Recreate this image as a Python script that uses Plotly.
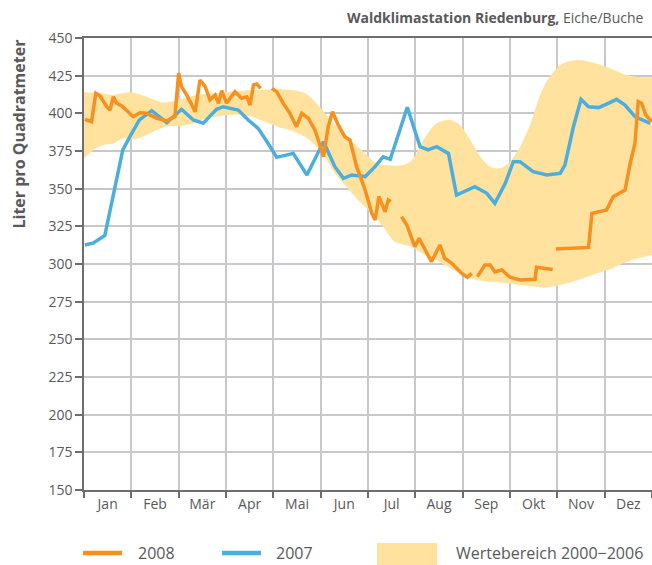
import plotly.graph_objects as go

# ---------------- data ----------------
months = ["Jan", "Feb", "Mär", "Apr", "Mai", "Jun", "Jul", "Aug", "Sep", "Okt", "Nov", "Dez"]
month_centers = [i + 0.5 for i in range(12)]
month_edges = list(range(13))
y_ticks = list(range(150, 451, 25))

# x positions are in months (0 = 1 Jan, 12 = 31 Dec)
x_2007 = [0.02, 0.20, 0.44, 0.62, 0.82, 0.97, 1.17, 1.43, 1.75, 2.06, 2.31, 2.52, 2.80, 2.94,
          3.26, 3.47, 3.68, 3.89, 4.07, 4.42, 4.71, 5.06, 5.30, 5.48, 5.66, 5.94, 6.15, 6.32,
          6.47, 6.83, 7.10, 7.27, 7.45, 7.70, 7.87, 8.26, 8.51, 8.68, 8.90, 9.07, 9.21, 9.49,
          9.78, 10.06, 10.16, 10.34, 10.50, 10.66, 10.87, 11.11, 11.25, 11.43, 11.64, 11.96]
y_2007 = [312.6, 314, 319, 347, 375.7, 384.5, 395.6, 401.8, 393.8, 402.7, 395.6, 393.4, 402.7, 404.4,
          402.2, 395.6, 390, 380, 370.8, 373.4, 359.1, 381.2, 364.6, 356.9, 359.1, 358, 364.6, 371.2,
          369.5, 404, 377.9, 375.7, 377.9, 373.4, 345.8, 351.3, 346.9, 340.3, 353.6, 367.9, 367.9, 361.3,
          359.1, 360.2, 365.7, 391.1, 409.3, 404.4, 403.8, 407.1, 409.3, 405.5, 397.8, 393.4]

x_2008 = [0.02, 0.16, 0.25, 0.34, 0.48, 0.55, 0.62, 0.69, 0.80, 1.04, 1.18, 1.32, 1.54, 1.75,
          1.92, 2.00, 2.06, 2.17, 2.35, 2.45, 2.56, 2.66, 2.77, 2.84, 2.91, 3.01, 3.19, 3.33,
          3.44, 3.51, 3.58, 3.65, 3.73, 3.85,
          3.97, 4.07, 4.21, 4.35, 4.49, 4.60, 4.74, 4.88, 5.06, 5.16, 5.25, 5.37, 5.51, 5.62,
          5.76, 5.94, 6.08, 6.15, 6.23, 6.36, 6.43, 6.48, 6.60,
          6.71, 6.82, 6.99, 7.08, 7.34, 7.52, 7.62, 7.77, 7.98, 8.10, 8.19, 8.25,
          8.31, 8.47, 8.58, 8.68, 8.83, 9.00, 9.21, 9.53, 9.56, 9.90, 9.93,
          9.97, 10.27, 10.66, 10.73, 11.04, 11.18, 11.43, 11.54, 11.64, 11.71, 11.78, 11.87, 11.99]
y_2008 = [396, 394.5, 413.3, 411.5, 404.4, 402.2, 411, 406.7, 404.9, 397.8, 400.4, 400, 396.7, 395,
          397.8, 426.6, 417.7, 412.2, 401.1, 422.1, 417.7, 408.9, 412.2, 406.7, 415, 406.7, 414.4, 410,
          411, 405.5, 418.8, 419.5, 416.6, None,
          416.6, 414.4, 406.7, 400, 391.1, 400, 396.7, 388.9, 371.2, 391.1, 401.1, 392.3, 384.5, 382.3,
          364.6, 349.1, 333.6, 329.2, 344.7, 334.7, 342.5, 341.4, None,
          331.4, 325.9, 311.5, 317, 301.6, 312.6, 303.8, 300.5, 293.8, 291.2, 293.8, None,
          291.6, 299.3, 299.3, 294.9, 296, 291.2, 289.4, 289.8, 297.8, 296.4, None,
          310, 310.4, 311, 333.6, 335.8, 344.7, 349.1, 366.8, 380.1, 407.7, 406.7, 398.9, 394.5]

# Wertebereich 2000-2006 (range band)
band_x_upper = [0.0, 0.34, 0.62, 0.97, 1.32, 1.68, 2.03, 2.38, 2.73, 3.08, 3.33, 3.68, 4.04, 4.39,
                4.67, 4.88, 5.09, 5.37, 5.66, 5.94, 6.15, 6.40, 6.75, 6.96, 7.17, 7.45, 7.73, 7.94,
                8.16, 8.37, 8.58, 8.79, 9.00, 9.21, 9.42, 9.70, 10.06, 10.41, 10.76, 11.11, 11.46,
                11.81, 12.0]
band_upper = [414, 413.3, 412.2, 414, 411, 407.1, 409.3, 412.2, 413.3, 414.4, 415, 415.5, 416, 415.5,
              413.3, 407.7, 400, 390, 381.2, 373.4, 367.5, 365.5, 365.7, 370.1, 382.3, 393.4, 395.6, 392.3,
              382.3, 371.2, 364.6, 363.5, 367.9, 377.9, 392, 417, 432, 435.4, 433.6, 430, 425.5,
              424, 424]
band_x_lower = [0.0, 0.20, 0.41, 0.62, 0.83, 1.08, 1.32, 1.61, 1.82, 2.03, 2.31, 2.59, 2.87, 3.08,
                3.26, 3.54, 3.82, 4.10, 4.39, 4.67, 4.88, 5.09, 5.30, 5.51, 5.79, 6.08, 6.32, 6.56,
                6.92, 7.17, 7.45, 7.73, 8.01, 8.30, 8.58, 8.86, 9.21, 9.50, 9.75, 10.06, 10.41, 10.76,
                11.11, 11.39, 11.67, 12.0]
band_lower = [370, 375.7, 379, 380, 383.4, 382.8, 385.6, 390, 391.6, 391.6, 393.4, 396.7, 398.2, 399,
              399, 397.8, 394.5, 391, 388.5, 384.5, 379, 371.2, 360.2, 352.4, 342.5, 333.6, 324.8, 315,
              311.5, 306.5, 302.5, 297.5, 292.7, 289.4, 288.3, 287.6, 286, 285, 284.3, 286, 289, 293,
              296.5, 300.5, 303.5, 306]

# ---------------- styles ----------------
ORANGE = "#F7901E"
BLUE = "#4BAEDD"
BAND = "#FEE29D"
GRID = "#C8C8CC"
AXIS = "#6E6E6E"
TEXT = "#595959"
FONT = "Open Sans"

fig = go.Figure()

fig.add_trace(go.Scatter(x=band_x_lower, y=band_lower, mode="lines",
                         line=dict(width=0, shape="spline", smoothing=0.8),
                         hoverinfo="skip", showlegend=False))
fig.add_trace(go.Scatter(x=band_x_upper, y=band_upper, mode="lines",
                         line=dict(width=0, shape="spline", smoothing=0.8),
                         fill="tonexty", fillcolor=BAND,
                         name="Wertebereich 2000−2006", showlegend=False))
fig.add_trace(go.Scatter(x=x_2007, y=y_2007, mode="lines", name="2007",
                         line=dict(color=BLUE, width=3.5), showlegend=False))
fig.add_trace(go.Scatter(x=x_2008, y=y_2008, mode="lines", name="2008",
                         line=dict(color=ORANGE, width=3.5), connectgaps=False,
                         showlegend=False))

W, H = 652, 565
L, R, T, B = 84, 0, 38, 75
pw, ph = W - L - R, H - T - B


def px(xp):
    return (xp - L) / pw


def py(yp):
    return (H - B - yp) / ph


fig.update_layout(
    width=W, height=H,
    margin=dict(l=L, r=R, t=T, b=B),
    paper_bgcolor="white", plot_bgcolor="white",
    font=dict(family=FONT, color=TEXT, size=14),
    showlegend=False,
    xaxis=dict(range=[0, 12], tickmode="array", tickvals=month_centers, ticktext=months,
               ticks="", showgrid=False, zeroline=False,
               showline=True, linecolor=AXIS, linewidth=1.5, mirror=True,
               tickfont=dict(size=14, color=TEXT),
               minor=dict(tickmode="array", tickvals=month_edges, ticks="outside",
                          ticklen=6, tickwidth=1.5, tickcolor=AXIS,
                          showgrid=True, gridcolor=GRID, gridwidth=1.5)),
    yaxis=dict(range=[150, 450], tickmode="array", tickvals=y_ticks,
               ticks="outside", ticklen=7, tickwidth=1.5, tickcolor=AXIS,
               showgrid=True, gridcolor=GRID, gridwidth=1.5, zeroline=False,
               showline=True, linecolor=AXIS, linewidth=1.5,
               tickfont=dict(size=14, color=TEXT)),
)

annotations = [
    dict(text="<b>Waldklimastation Riedenburg,</b> Eiche/Buche", xref="paper", yref="paper",
         x=px(646), y=py(18), xanchor="right", yanchor="middle", showarrow=False,
         font=dict(size=14, color=TEXT)),
    dict(text="<b>Liter pro Quadratmeter</b>", xref="paper", yref="paper",
         x=px(18), y=py(38), xanchor="center", yanchor="top", textangle=-90,
         showarrow=False, font=dict(size=16, color=TEXT)),
    dict(text="2008", xref="paper", yref="paper", x=px(136), y=py(553),
         xanchor="left", yanchor="middle", showarrow=False, font=dict(size=16, color=TEXT)),
    dict(text="2007", xref="paper", yref="paper", x=px(274), y=py(553),
         xanchor="left", yanchor="middle", showarrow=False, font=dict(size=16, color=TEXT)),
    dict(text="Wertebereich 2000−2006", xref="paper", yref="paper", x=px(454), y=py(553),
         xanchor="left", yanchor="middle", showarrow=False, font=dict(size=16, color=TEXT)),
]
shapes = [
    dict(type="line", xref="paper", yref="paper", x0=px(83), x1=px(122), y0=py(553), y1=py(553),
         line=dict(color=ORANGE, width=4.5)),
    dict(type="line", xref="paper", yref="paper", x0=px(222), x1=px(261), y0=py(553), y1=py(553),
         line=dict(color=BLUE, width=4.5)),
    dict(type="rect", xref="paper", yref="paper", x0=px(377), x1=px(437), y0=py(543), y1=py(566),
         fillcolor=BAND, line=dict(width=0)),
]
fig.update_layout(annotations=annotations, shapes=shapes)

fig.write_html("out.html", config={"displayModeBar": False},
               post_script="document.body.style.margin='0';document.body.style.padding='0';")
